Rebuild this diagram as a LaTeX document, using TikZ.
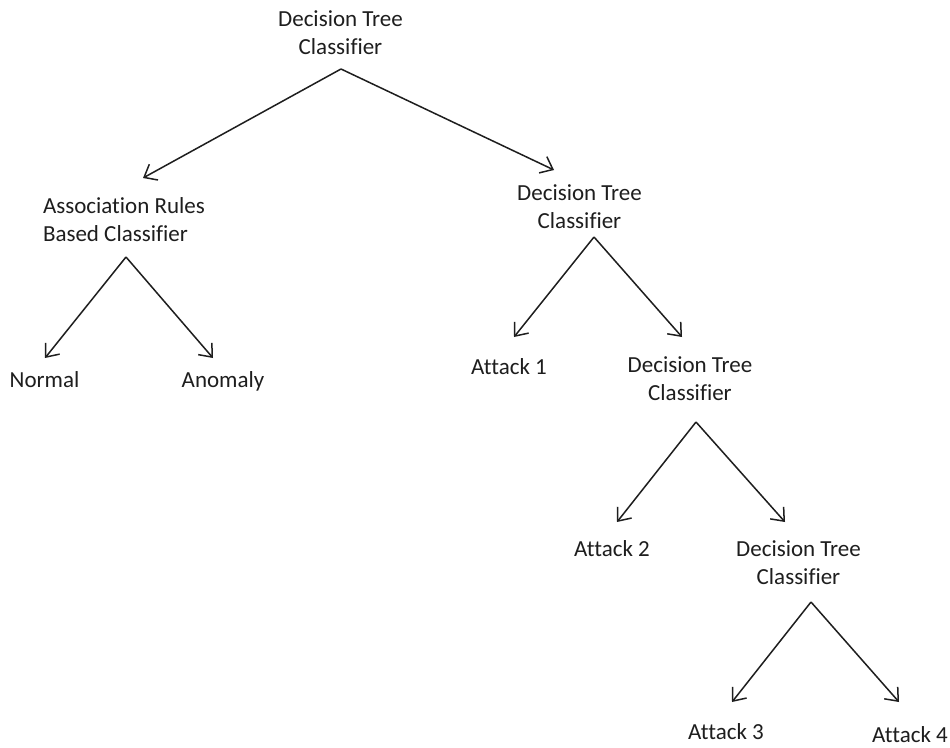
\documentclass[tikz,border=0pt]{standalone}
\usepackage{fontspec}
\setmainfont[Ligatures=NoCommon]{Carlito}
\usetikzlibrary{arrows.meta}
\definecolor{ink}{RGB}{30,30,30}
\begin{document}
\begin{tikzpicture}[x=1pt,y=-1pt,
  lbl/.style={inner sep=0pt, outer sep=0pt, text=ink, font=\fontsize{23}{28}\selectfont, anchor=base},
  arr/.style={draw=ink, line width=1.5pt, -{Straight Barb[length=11pt,width=18pt,line width=1.5pt]}}]
\useasboundingbox[fill=white] (0,0) rectangle (950,747);
% nodes (two-line nodes are placed by the baseline of their last line)
\node[lbl, align=center] (top) at (340.5,54) {Decision Tree\\Classifier};
\node[lbl, align=left, anchor=base west] (arc) at (43,241) {Association Rules\\Based Classifier};
\node[lbl] (normal) at (44.5,387) {Normal};
\node[lbl] (anomaly) at (223,387) {Anomaly};
\node[lbl, align=center] (dt2) at (579.5,228) {Decision Tree\\Classifier};
\node[lbl] (att1) at (509,374) {Attack 1};
\node[lbl, align=center] (dt3) at (690,400) {Decision Tree\\Classifier};
\node[lbl] (att2) at (612,556) {Attack 2};
\node[lbl, align=center] (dt4) at (798.5,584) {Decision Tree\\Classifier};
\node[lbl] (att3) at (726,739) {Attack 3};
\node[lbl] (att4) at (910,742) {Attack 4};
% connector end points
\coordinate (top-o) at (341,69);
\coordinate (arc-i) at (143,178);
\coordinate (dt2-i) at (554,170);
\coordinate (arc-o) at (126,257);
\coordinate (normal-i) at (45,358);
\coordinate (anomaly-i) at (213,358);
\coordinate (dt2-o) at (594,237);
\coordinate (att1-i) at (514,337);
\coordinate (dt3-i) at (682,337);
\coordinate (dt3-o) at (696,422);
\coordinate (att2-i) at (617,522);
\coordinate (dt4-i) at (785,522);
\coordinate (dt4-o) at (811,602);
\coordinate (att3-i) at (732,702);
\coordinate (att4-i) at (899,702);
% connectors
\draw[arr] (top-o) -- (arc-i);
\draw[arr] (top-o) -- (dt2-i);
\draw[arr] (arc-o) -- (normal-i);
\draw[arr] (arc-o) -- (anomaly-i);
\draw[arr] (dt2-o) -- (att1-i);
\draw[arr] (dt2-o) -- (dt3-i);
\draw[arr] (dt3-o) -- (att2-i);
\draw[arr] (dt3-o) -- (dt4-i);
\draw[arr] (dt4-o) -- (att3-i);
\draw[arr] (dt4-o) -- (att4-i);
\end{tikzpicture}
\end{document}
